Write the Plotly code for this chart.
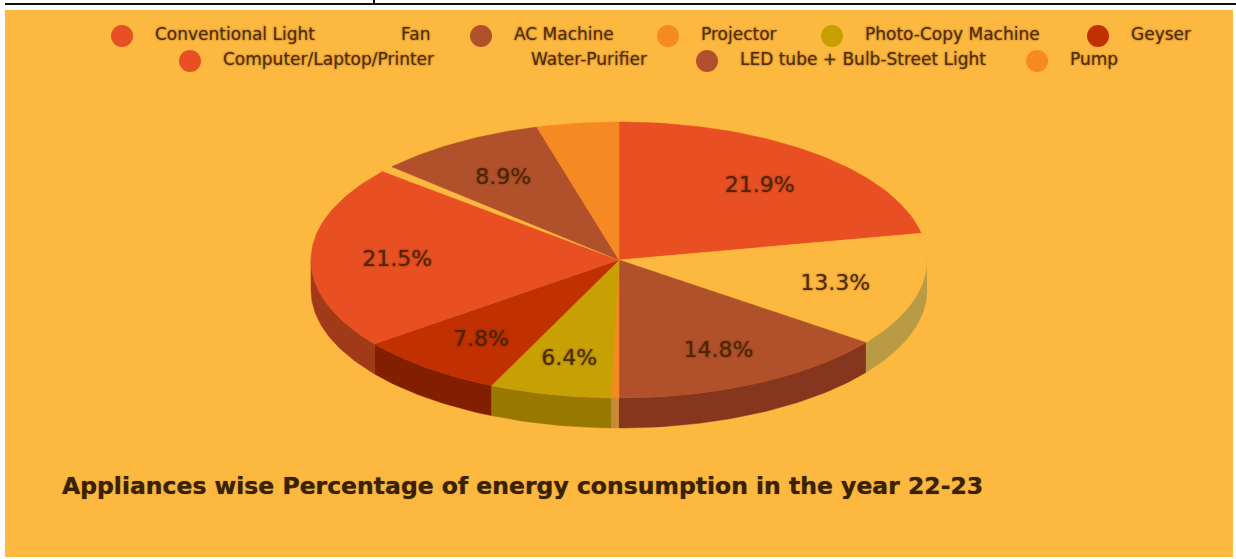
import math
import plotly.graph_objects as go

categories = ["Conventional Light", "Fan", "AC Machine", "Projector", "Photo-Copy Machine",
              "Geyser", "Computer/Laptop/Printer", "Water-Purifier", "LED tube + Bulb-Street Light", "Pump"]
values = [21.9, 13.3, 14.8, 0.4, 6.4, 7.8, 21.5, 0.7, 8.9, 4.3]
value_labels = ["21.9%", "13.3%", "14.8%", "", "6.4%", "7.8%", "21.5%", "", "8.9%", ""]
title_text = "Appliances wise Percentage of energy consumption in the year 22-23"

face_colors = ["#E84F23", "#FDB83F", "#B0512B", "#F68A22", "#C7A003", "#C03000", "#E84F23", "#FDB83F", "#B0512B", "#F68A22"]
side_colors = ["#A03A18", "#B99B46", "#85361C", "#C98A35", "#997800", "#821F00", "#A03A18", "#B99B46", "#85361C", "#C98A35"]

# layout of the drawing, in page pixels
W, H = 1236, 559
CX, CY, RX, RY, DEPTH = 619, 260, 308, 138, 30
LABEL_FRAC = 0.72
LABEL_DY = 3
legend_x = {"Conventional Light": 122, "Fan": 368, "AC Machine": 481, "Projector": 668, "Photo-Copy Machine": 832,
            "Geyser": 1098, "Computer/Laptop/Printer": 190, "Water-Purifier": 498, "LED tube + Bulb-Street Light": 707,
            "Pump": 1037}
legend_row = {"Conventional Light": 36, "Fan": 36, "AC Machine": 36, "Projector": 36, "Photo-Copy Machine": 36,
              "Geyser": 36, "Computer/Laptop/Printer": 61, "Water-Purifier": 61, "LED tube + Bulb-Street Light": 61,
              "Pump": 61}
BLUR = "0 0 2px rgba(70,30,0,0.75)"
TEXT = "rgba(70,35,0,0.9)"


def pt(frac, r=1.0, dy=0):
    a = 2 * math.pi * frac
    return CX + RX * r * math.sin(a), CY - RY * r * math.cos(a) + dy


def arc(f0, f1, dy=0):
    n = max(2, int((f1 - f0) * 360))
    pts = [pt(f0 + (f1 - f0) * i / n, 1.0, dy) for i in range(n + 1)]
    return [p[0] for p in pts], [p[1] for p in pts]


fig = go.Figure()
total = sum(values)
cum = 0.0
spans = []
for v in values:
    spans.append((cum / total, (cum + v) / total))
    cum += v

# side walls, only along the visible lower half of the rim
for (f0, f1), col in zip(spans, side_colors):
    a, b = max(f0, 0.25), min(f1, 0.75)
    if b <= a:
        continue
    x1, y1 = arc(a, b)
    x2, y2 = arc(a, b, DEPTH)
    fig.add_trace(go.Scatter(x=x1 + x2[::-1], y=y1 + y2[::-1], mode="lines", fill="toself",
                             fillcolor=col, line=dict(width=0.5, color=col), hoverinfo="skip", showlegend=False))

# top faces
for (f0, f1), col, name in zip(spans, face_colors, categories):
    x1, y1 = arc(f0, f1)
    fig.add_trace(go.Scatter(x=[CX] + x1 + [CX], y=[CY] + y1 + [CY], mode="lines", fill="toself", name=name,
                             fillcolor=col, line=dict(width=0.5, color=col), hoverinfo="name", showlegend=False))

# value labels
lx, ly = [], []
for f0, f1 in spans:
    x, y = pt((f0 + f1) / 2, LABEL_FRAC, LABEL_DY)
    lx.append(x)
    ly.append(y)
fig.add_trace(go.Scatter(x=lx, y=ly, mode="text", text=value_labels, hoverinfo="skip", showlegend=False,
                         textfont=dict(family="DejaVu Sans", size=22, color=TEXT, shadow=BLUR)))

# hand-placed two-row legend
fig.add_trace(go.Scatter(x=[legend_x[c] for c in categories], y=[legend_row[c] for c in categories],
                         mode="markers", hoverinfo="skip", showlegend=False,
                         marker=dict(size=22, color=face_colors, line=dict(width=0))))
fig.add_trace(go.Scatter(x=[legend_x[c] + 33 for c in categories], y=[legend_row[c] for c in categories],
                         mode="text", text=categories, textposition="middle right", hoverinfo="skip", showlegend=False,
                         textfont=dict(family="DejaVu Sans", size=17, color=TEXT, shadow=BLUR)))

axis = dict(visible=False, fixedrange=True)
fig.update_layout(
    width=W, height=H, margin=dict(l=0, r=0, t=0, b=0), paper_bgcolor="white", plot_bgcolor="rgba(0,0,0,0)",
    xaxis=dict(range=[0, W], **axis), yaxis=dict(range=[H, 0], **axis),
    shapes=[
        dict(type="rect", layer="below", xref="x", yref="y", x0=5, x1=1233, y0=10, y1=557,
             fillcolor="#FDB83F", line=dict(width=0)),
        dict(type="line", layer="below", xref="x", yref="y", x0=5, x1=1236, y0=4, y1=4,
             line=dict(color="#111111", width=2)),
        dict(type="line", layer="below", xref="x", yref="y", x0=374, x1=374, y0=0, y1=4,
             line=dict(color="#111111", width=2)),
    ],
    annotations=[dict(x=60, y=486, xref="x", yref="y", xanchor="left", yanchor="middle", showarrow=False,
                      text=title_text, font=dict(family="DejaVu Sans", size=23.5, color="#3A2200", weight="bold", shadow="0 0 1px rgba(60,30,0,0.7)"))],
)
fig.write_html("out.html", post_script="document.body.style.margin='0';", config={"displayModeBar": False})
